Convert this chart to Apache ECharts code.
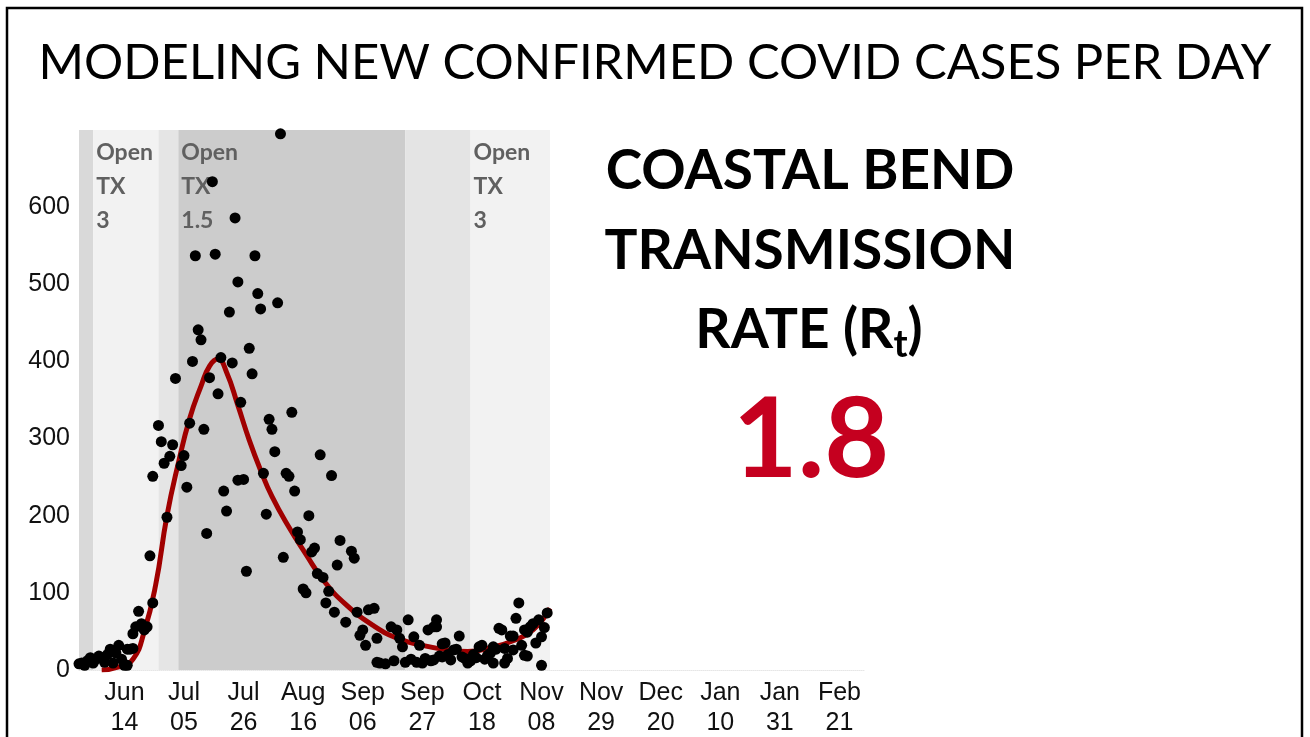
<!DOCTYPE html>
<html>
<head>
<meta charset="utf-8">
<script src="https://cdn.jsdelivr.net/npm/echarts@6/dist/echarts.min.js"></script>
<style>
  html, body { margin: 0; padding: 0; background: #fff; }
  #chart { width: 1310px; height: 737px; }
</style>
</head>
<body>
<div id="chart"></div>
<script>
// day 0 = 2020-05-29
const startDate = [2020, 4, 29]

// scatter: [day, new cases]
const casePoints = [
  [0, 8], [1, 9], [2, 6], [3, 12], [4, 16], [5, 9], [6, 14], [7, 18], [8, 16], [9, 10],
  [10, 20], [11, 27], [12, 9], [13, 22], [14, 32], [15, 14], [16, 6], [17, 27], [17, 6], [18, 27],
  [19, 28], [19, 47], [20, 56], [21, 76], [22, 60], [23, 52], [24, 56], [25, 148], [26, 87], [26, 251],
  [28, 317], [29, 296], [30, 268], [31, 198], [32, 277], [33, 292], [34, 378], [36, 265], [37, 278], [38, 237],
  [39, 320], [40, 400], [41, 537], [42, 441], [43, 428], [44, 312], [45, 177], [46, 379], [47, 633], [48, 539],
  [49, 358], [50, 405], [51, 232], [52, 206], [53, 464], [54, 398], [55, 586], [56, 503], [56, 246], [57, 347],
  [58, 247], [59, 128], [60, 417], [61, 384], [62, 537], [63, 488], [64, 468], [65, 255], [66, 202], [67, 325],
  [68, 312], [69, 283], [70, 476], [71, 695], [72, 146], [73, 255], [74, 251], [75, 334], [76, 232], [77, 179],
  [78, 169], [79, 105], [80, 100], [81, 200], [82, 153], [83, 158], [84, 125], [85, 279], [86, 120], [87, 87],
  [88, 102], [89, 252], [90, 75], [91, 136], [92, 168], [94, 62], [96, 154], [97, 145], [98, 75], [99, 45],
  [100, 52], [101, 32], [102, 78], [104, 80], [105, 10], [106, 9], [105, 41], [108, 8], [110, 56], [111, 12],
  [112, 52], [113, 41], [114, 30], [115, 10], [116, 65], [117, 14], [118, 43], [119, 10], [120, 32], [121, 9],
  [122, 15], [123, 52], [124, 12], [125, 56], [125, 13], [126, 65], [126, 56], [127, 18], [128, 34], [128, 17],
  [129, 35], [130, 20], [131, 13], [132, 26], [133, 27], [134, 44], [135, 17], [136, 15], [137, 9], [138, 12],
  [139, 20], [140, 16], [141, 30], [142, 32], [143, 14], [144, 19], [145, 22], [146, 9], [146, 30], [147, 27],
  [148, 54], [149, 52], [150, 28], [150, 9], [151, 15], [152, 44], [153, 26], [153, 44], [154, 67], [155, 87],
  [156, 32], [157, 52], [157, 19], [158, 49], [158, 18], [159, 56], [160, 60], [161, 35], [162, 65], [163, 43],
  [163, 6], [164, 55], [165, 74]
]

// fitted curve: [day, cases]
const fitPoints = [
  [8, 0], [14, 4], [19, 14], [23, 50], [27, 110], [31, 200], [35, 268], [39, 326], [43, 368], [46, 394],
  [49, 403], [52, 386], [56, 343], [60, 298], [64, 259], [68, 225], [74, 185], [80, 150], [86, 117], [94, 85],
  [104, 57], [113, 40], [121, 32], [130, 26], [137, 24], [145, 29], [153, 38], [160, 52], [166, 80]
]

// shaded phases [from day, to day]
const phaseRanges = [[0, 5], [5, 28], [28, 35], [35, 115], [115, 138], [138, 166]]
const phaseLabels = ['', 'Open\nTX\n3', '', 'Open\nTX\n1.5', '', 'Open\nTX\n3']
const phaseColors = ['#d9d9d9', '#f2f2f2', '#e5e5e5', '#cccccc', '#e4e4e4', '#f2f2f2']

// tick label days (every 21 days from Jun 14)
const tickDays = [16, 37, 58, 79, 100, 121, 142, 163, 184, 205, 226, 247, 268]
const monthNames = ['Jan', 'Feb', 'Mar', 'Apr', 'May', 'Jun', 'Jul', 'Aug', 'Sep', 'Oct', 'Nov', 'Dec']

function dayLabel (day) {
  const d = new Date(startDate[0], startDate[1], startDate[2] + day)
  const dd = d.getDate()
  return monthNames[d.getMonth()] + '\n' + (dd < 10 ? '0' + dd : dd)
}

const chart = echarts.init(document.getElementById('chart'))

const option = {
  animation: false,
  backgroundColor: '#fff',
  title: {
    text: 'MODELING NEW CONFIRMED COVID CASES PER DAY',
    left: 'center',
    top: 34,
    textStyle: {
      fontFamily: 'Lato',
      fontWeight: 'normal',
      fontSize: 49,
      color: '#000'
    }
  },
  grid: {
    left: 79,
    right: 445,
    top: 130,
    bottom: 67,
    containLabel: false,
    outerBoundsMode: 'none'
  },
  xAxis: {
    type: 'value',
    min: 0,
    max: 277,
    axisLine: { show: true, lineStyle: { color: '#e6e6e6', type: 'dotted', width: 1 } },
    axisTick: { show: false },
    splitLine: { show: false },
    axisLabel: {
      customValues: tickDays,
      color: '#111',
      fontFamily: 'Liberation Sans',
      fontSize: 25,
      lineHeight: 30,
      margin: 8,
      hideOverlap: false,
      formatter: dayLabel
    }
  },
  yAxis: {
    type: 'value',
    min: 0,
    max: 700,
    interval: 100,
    axisLine: { show: false },
    axisTick: { show: false },
    splitLine: { show: false },
    axisLabel: {
      color: '#111',
      fontFamily: 'Liberation Sans',
      fontSize: 25,
      margin: 9,
      formatter: v => (v === 700 ? '' : v)
    }
  },
  series: [
    {
      name: 'phases',
      type: 'line',
      data: [],
      silent: true,
      markArea: {
        silent: true,
        data: phaseRanges.map((r, i) => [
          {
            xAxis: r[0],
            yAxis: 700,
            itemStyle: { color: phaseColors[i] },
            label: {
              show: phaseLabels[i] !== '',
              formatter: phaseLabels[i],
              position: 'insideTopLeft',
              distance: 0,
              padding: [6, 0, 0, 3],
              color: '#606060',
              fontFamily: 'Lato',
              fontWeight: 'bold',
              fontSize: 23,
              lineHeight: 34
            }
          },
          { xAxis: r[1], yAxis: 0 }
        ])
      }
    },
    {
      name: 'fit',
      type: 'line',
      smooth: 0.5,
      showSymbol: false,
      clip: true,
      lineStyle: { color: '#a00000', width: 5 },
      data: fitPoints,
      z: 3
    },
    {
      name: 'cases',
      type: 'scatter',
      symbolSize: 11,
      clip: true,
      itemStyle: { color: '#000', opacity: 1 },
      data: casePoints,
      z: 4
    }
  ],
  graphic: [
    {
      type: 'rect',
      shape: { x: 7, y: 8, width: 1295, height: 745 },
      style: { fill: null, stroke: '#000', lineWidth: 2.5 },
      z: 10
    },
    {
      type: 'text',
      x: 810,
      y: 131,
      style: {
        text: 'COASTAL BEND\nTRANSMISSION',
        align: 'center',
        verticalAlign: 'top',
        fontFamily: 'Lato',
        fontWeight: 'bold',
        fontSize: 55,
        lineHeight: 80,
        fill: '#000'
      }
    },
    {
      type: 'text',
      x: 809,
      y: 293,
      style: {
        text: '{m|RATE (R}{s|t}{m|)}',
        align: 'center',
        verticalAlign: 'top',
        rich: {
          m: { fontFamily: 'Lato', fontWeight: 'bold', fontSize: 55, lineHeight: 74, fill: '#000' },
          s: { fontFamily: 'Lato', fontWeight: 'bold', fontSize: 38, lineHeight: 74, padding: [30, 0, 0, 0], fill: '#000' }
        }
      }
    },
    {
      type: 'text',
      x: 811,
      y: 385,
      style: {
        text: '1.8',
        align: 'center',
        verticalAlign: 'top',
        fontFamily: 'Lato',
        fontWeight: 'bold',
        fontSize: 112,
        fill: '#c5001f'
      }
    }
  ]
}

chart.setOption(option)
</script>
</body>
</html>
